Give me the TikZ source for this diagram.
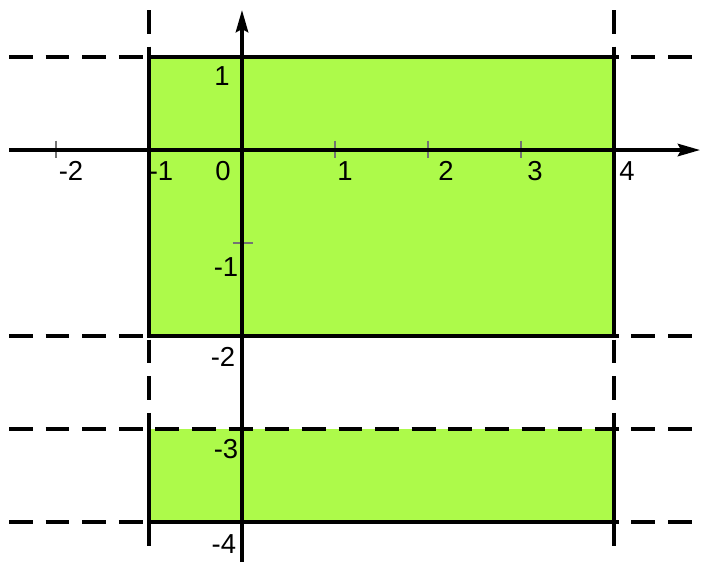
\documentclass[tikz,border=0pt]{standalone}
\usepackage{fontspec}
\setmainfont{Liberation Sans}
\usetikzlibrary{arrows.meta}
\definecolor{fillgreen}{RGB}{173,250,74}
\begin{document}
\begin{tikzpicture}[x=1cm,y=1cm,
  region/.style={fill=fillgreen},
  border/.style={line width=1.25pt},
  guide/.style={line width=1.25pt, dash pattern=on 7.3pt off 3.9pt},
  axisline/.style={line width=1.05pt,-{Stealth[length=6.8pt,width=3.8pt,inset=1pt]}},
  tickmark/.style={line width=0.45pt, black!55},
  lbl/.style={font=\fontsize{8.4}{10}\selectfont, inner sep=0pt}]
\useasboundingbox (-2.602,-4.430) rectangle (4.946,1.613);
% corners
\coordinate (A1) at (-1,1); \coordinate (B1) at (4,-2);
\coordinate (A2) at (-1,-3); \coordinate (B2) at (4,-4);
% fills
\fill[region] (A1) rectangle (B1);
\fill[region] (A2) rectangle (B2);
% guide lines
\coordinate (hl1) at (-2.505,1);  \coordinate (hr1) at (4.946,1);
\coordinate (hl2) at (-2.505,-2); \coordinate (hr2) at (4.946,-2);
\coordinate (hl3) at (-2.505,-3); \coordinate (hr3) at (4.946,-3);
\coordinate (hl4) at (-2.505,-4); \coordinate (hr4) at (4.946,-4);
\coordinate (vt1) at (-1,1.505); \coordinate (vb1) at (-1,-4.355);
\coordinate (vt2) at (4,1.505);  \coordinate (vb2) at (4,-4.355);
\draw[guide] (hl1) -- (hr1);
\draw[guide] (hl2) -- (hr2);
\draw[guide] (hl3) -- (hr3);
\draw[guide] (hl4) -- (hr4);
\draw[guide] (vt1) -- (vb1);
\draw[guide] (vt2) -- (vb2);
% borders
\draw[border] (A1) rectangle (B1);
\draw[border] (-1,-3) -- (-1,-4) -- (4,-4) -- (4,-3);
% ticks
\foreach \t in {-2,1,2,3} \draw[tickmark] (\t,0.1) -- (\t,-0.09);
\draw[tickmark] (-0.1,-1) -- (0.12,-1);
% axes
\coordinate (xs) at (-2.505,0); \coordinate (xe) at (4.925,0);
\coordinate (ys) at (0,-4.43); \coordinate (ye) at (0,1.505);
\draw[axisline] (xs) -- (xe);
\draw[axisline] (ys) -- (ye);
% labels
\node[lbl] (lxm2) at (-1.839,-0.226) {-2};
\node[lbl] (lxm1) at (-0.871,-0.226) {-1};
\node[lbl] (lx0) at (-0.204,-0.226) {0};
\node[lbl] (lx1) at (1.108,-0.226) {1};
\node[lbl] (lx2) at (2.194,-0.226) {2};
\node[lbl] (lx3) at (3.151,-0.226) {3};
\node[lbl] (lx4) at (4.140,-0.226) {4};
\node[lbl] (ly1) at (-0.215,0.796) {1};
\node[lbl] (lym1) at (-0.172,-1.258) {-1};
\node[lbl] (lym2) at (-0.204,-2.226) {-2};
\node[lbl] (lym3) at (-0.172,-3.215) {-3};
\node[lbl] (lym4) at (-0.194,-4.237) {-4};
\end{tikzpicture}
\end{document}
